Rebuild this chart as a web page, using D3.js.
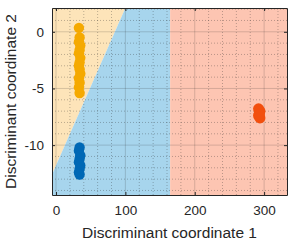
<html>
<head>
<meta charset="utf-8">
<script src="https://d3js.org/d3.v7.min.js"></script>
<style>
  body { margin: 0; background: #fff; }
  text { font-family: "Liberation Sans", Arial, sans-serif; }
</style>
</head>
<body>
<div id="chart"></div>
<script>
// ---- data ----
var xTicks = [0, 100, 200, 300];
var yTicks = [-10, -5, 0];
var xMinor = [0, 20, 40, 60, 80, 100, 120, 140, 160, 180, 200, 220, 240, 260, 280, 300, 320];
var yMinor = [-14, -13, -12, -11, -10, -9, -8, -7, -6, -5, -4, -3, -2, -1, 0, 1, 2];

// decision boundary: diagonal line between class 1 and 2, vertical line to class 3
var diagTop = [100, 2.1];
var diagLeft = [-5.8, -12.6];
var vertX = 164.5;

var class1X = [33, 34, 33, 35, 34, 33, 35, 34, 33, 34, 35, 33, 34, 33, 34];
var class1Y = [0.35, -0.5, -0.9, -1.2, -1.6, -1.9, -2.3, -2.7, -3.0, -3.3, -3.7, -4.1, -4.5, -4.9, -5.4];
var class2X = [34, 33, 35, 34, 33, 35, 34, 33, 34];
var class2Y = [-10.2, -10.5, -10.9, -11.2, -11.5, -11.8, -12.1, -12.4, -12.6];
var class3X = [292, 294, 293, 292, 294, 293];
var class3Y = [-6.8, -7.0, -7.2, -7.4, -7.6, -7.3];

var width = 296, height = 244;
var pLeft = 52, pRight = 287, pTop = 8, pBottom = 195;
var xMin = -5.8, xMax = 333, yMin = -14.4, yMax = 2.1;

var x = d3.scaleLinear().domain([xMin, xMax]).range([pLeft, pRight]);
var y = d3.scaleLinear().domain([yMin, yMax]).range([pBottom, pTop]);

var svg = d3.select("#chart").append("svg")
  .attr("width", width)
  .attr("height", height);

var line = d3.line().x(function(d) { return x(d[0]); }).y(function(d) { return y(d[1]); });

// regions
svg.append("path")
  .attr("d", line([[xMin, yMax], diagTop, diagLeft]) + "Z")
  .attr("fill", "#fde4b9");
svg.append("path")
  .attr("d", line([diagTop, [vertX, yMax], [vertX, yMin], [xMin, yMin], diagLeft]) + "Z")
  .attr("fill", "#a7d5ed");
svg.append("path")
  .attr("d", line([[vertX, yMax], [xMax, yMax], [xMax, yMin], [vertX, yMin]]) + "Z")
  .attr("fill", "#fdc5b2");

// minor grid
svg.append("g").selectAll("line")
  .data(xMinor.filter(function(d) { return xTicks.indexOf(d) < 0; }))
  .enter().append("line")
  .attr("x1", function(d) { return x(d); }).attr("x2", function(d) { return x(d); })
  .attr("y1", pTop).attr("y2", pBottom)
  .attr("stroke", "#262626").attr("stroke-opacity", 0.3)
  .attr("stroke-dasharray", "1,2");
svg.append("g").selectAll("line")
  .data(yMinor.filter(function(d) { return yTicks.indexOf(d) < 0; }))
  .enter().append("line")
  .attr("y1", function(d) { return y(d); }).attr("y2", function(d) { return y(d); })
  .attr("x1", pLeft).attr("x2", pRight)
  .attr("stroke", "#262626").attr("stroke-opacity", 0.3)
  .attr("stroke-dasharray", "1,2");

// major grid
svg.append("g").selectAll("line")
  .data(xTicks)
  .enter().append("line")
  .attr("x1", function(d) { return x(d); }).attr("x2", function(d) { return x(d); })
  .attr("y1", pTop).attr("y2", pBottom)
  .attr("stroke", "#262626").attr("stroke-opacity", 0.18);
svg.append("g").selectAll("line")
  .data(yTicks)
  .enter().append("line")
  .attr("y1", function(d) { return y(d); }).attr("y2", function(d) { return y(d); })
  .attr("x1", pLeft).attr("x2", pRight)
  .attr("stroke", "#262626").attr("stroke-opacity", 0.18);

// points
function drawPts(xs, ys, color, r) {
  svg.append("g").selectAll("circle")
    .data(xs.map(function(d, i) { return [d, ys[i]]; }))
    .enter().append("circle")
    .attr("cx", function(d) { return x(d[0]); })
    .attr("cy", function(d) { return y(d[1]); })
    .attr("r", r)
    .attr("fill", color);
}
drawPts(class1X, class1Y, "#f5a900", 5.2);
drawPts(class2X, class2Y, "#0068b5", 5.2);
drawPts(class3X, class3Y, "#f24f0e", 5.5);

// axes
var ax = "#262626";
var fmt = function(d) { return String(d); };
var xAxis = svg.append("g").attr("transform", "translate(0," + pBottom + ")")
  .call(d3.axisBottom(x).tickValues(xTicks).tickFormat(fmt).tickSizeInner(-3).tickSizeOuter(0).tickPadding(10));
var xAxisTop = svg.append("g").attr("transform", "translate(0," + pTop + ")")
  .call(d3.axisTop(x).tickValues(xTicks).tickSizeInner(-3).tickSizeOuter(0).tickFormat(""));
var yAxis = svg.append("g").attr("transform", "translate(" + pLeft + ",0)")
  .call(d3.axisLeft(y).tickValues(yTicks).tickFormat(fmt).tickSizeInner(-3).tickSizeOuter(0).tickPadding(8));
var yAxisRight = svg.append("g").attr("transform", "translate(" + pRight + ",0)")
  .call(d3.axisRight(y).tickValues(yTicks).tickSizeInner(-3).tickSizeOuter(0).tickFormat(""));

[xAxis, xAxisTop, yAxis, yAxisRight].forEach(function(g) {
  g.select(".domain").attr("stroke", ax);
  g.selectAll(".tick line").attr("stroke", ax);
  g.selectAll(".tick text")
    .attr("fill", ax)
    .style("font-family", "'Liberation Sans', Arial, sans-serif")
    .style("font-size", "13.5px");
});

svg.append("text")
  .attr("x", (pLeft + pRight) / 2)
  .attr("y", 238)
  .attr("text-anchor", "middle")
  .style("font-size", "15.5px")
  .attr("fill", ax)
  .text("Discriminant coordinate 1");

svg.append("text")
  .attr("transform", "translate(16," + (pTop + pBottom) / 2 + ") rotate(-90)")
  .attr("text-anchor", "middle")
  .style("font-size", "15.5px")
  .attr("fill", ax)
  .text("Discriminant coordinate 2");
</script>
</body>
</html>
